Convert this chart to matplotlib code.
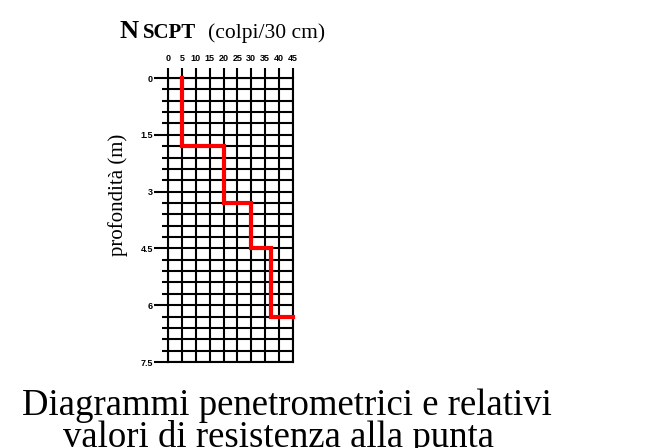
import matplotlib
matplotlib.use("Agg")
import matplotlib.pyplot as plt
import numpy as np

# dati della prova SCPT
layer_top = [0, 1.8, 3.3, 4.5, 6.3]      # profondita inizio strato (m)
n_scpt = [5, 20, 30, 37, 45]             # colpi/30 cm
depth_ticks = [0, 1.5, 3, 4.5, 6, 7.5]
depth_labels = ["0", "1.5", "3", "4.5", "6", "7.5"]
n_ticks = [0, 5, 10, 15, 20, 25, 30, 35, 40, 45]

# costruzione della spezzata a gradini
xs = [] ; ys = []
for i in range(len(layer_top)):
    xs.append(n_scpt[i]); ys.append(layer_top[i])
    if i + 1 < len(layer_top):
        xs.append(n_scpt[i]); ys.append(layer_top[i + 1])

fig = plt.figure(figsize=(6.6, 4.48), dpi=100)
ax = fig.add_axes([168/660, 1 - 362/448, 125/660, 284/448])

ax.set_xlim(0, 45)
ax.set_ylim(7.5, 0)
ax.set_xticks(n_ticks)
ax.set_yticks(depth_ticks)
ax.set_yticklabels(depth_labels)
ax.set_yticks(np.arange(0, 7.51, 0.3), minor=True)
ax.xaxis.tick_top()
ax.tick_params(axis='x', which='both', direction='out', length=7.5, width=1.5,
               labelsize=6.5, pad=3.5)
ax.tick_params(axis='y', which='major', direction='out', length=10, width=1.5,
               labelsize=6.5, pad=1)
ax.tick_params(axis='y', which='minor', direction='out', length=4.5, width=1.5)
for lab in ax.get_xticklabels() + ax.get_yticklabels():
    lab.set_fontweight('bold')
    lab.set_family('Liberation Sans')
ax.grid(True, which='both', color='black', linewidth=1.5)
for s in ax.spines.values():
    s.set_linewidth(1.5)

ax.plot(xs, ys, color='#ff0000', linewidth=3, clip_on=False, zorder=5,
        solid_joinstyle='miter')

fig.text(118/660, 1 - 195/448, "profondità (m)", family='Liberation Serif',
         fontsize=15, rotation=90, va='center', ha='center')

# titolo
fig.text(120/660, 1 - 38/448, "N", family='Liberation Serif', fontweight='bold',
         fontsize=19, va='baseline', ha='left')
fig.text(143/660, 1 - 38/448, "SCPT", family='Liberation Serif', fontweight='bold',
         fontsize=15, va='baseline', ha='left')
fig.text(208/660, 1 - 38/448, "(colpi/30 cm)", family='Liberation Serif',
         fontsize=15.5, va='baseline', ha='left')

# didascalia
fig.text(22/660, 1 - 415/448, "Diagrammi penetrometrici e relativi",
         family='Liberation Serif', fontsize=26.5, va='baseline', ha='left')
fig.text(63/660, 1 - 447/448, "valori di resistenza alla punta",
         family='Liberation Serif', fontsize=26.5, va='baseline', ha='left')

fig.savefig("out.png", dpi=100)
